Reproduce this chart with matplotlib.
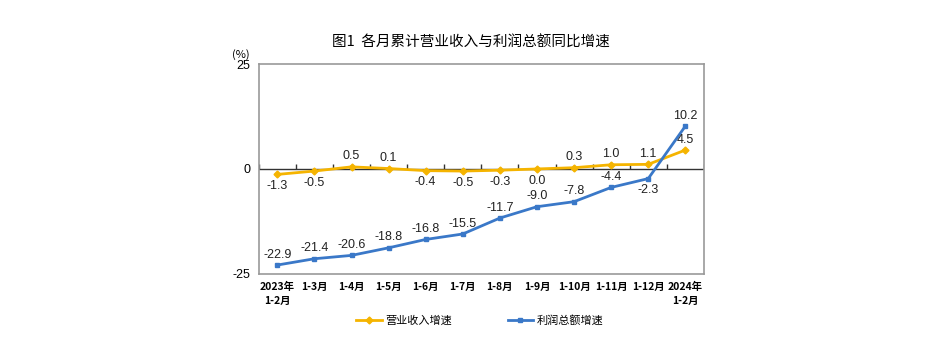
#coding:utf-8
import matplotlib
matplotlib.use('Agg')
import matplotlib.pyplot as plt
import numpy as np

plt.rcParams['font.family'] = ['Noto Sans CJK SC', 'DejaVu Sans']

# 数据
months = ['2023年\n1-2月', '1-3月', '1-4月', '1-5月', '1-6月', '1-7月', '1-8月',
          '1-9月', '1-10月', '1-11月', '1-12月', '2024年\n1-2月']
revenue = [-1.3, -0.5, 0.5, 0.1, -0.4, -0.5, -0.3, 0.0, 0.3, 1.0, 1.1, 4.5]
profit = [-22.9, -21.4, -20.6, -18.8, -16.8, -15.5, -11.7, -9.0, -7.8, -4.4, -2.3, 10.2]
# 标签在点的上方(1)或下方(-1)
rev_pos = [-1, -1, 1, 1, -1, -1, -1, -1, 1, 1, 1, 1]
pro_pos = [1, 1, 1, 1, 1, 1, 1, 1, 1, 1, -1, 1]

orange = '#F5B400'
blue = '#3A78C8'

fig = plt.figure(figsize=(9.41, 3.52), dpi=100)
ax = fig.add_axes([0.275, 0.222, 0.473, 0.596])

x = np.arange(len(months))
ax.plot(x, revenue, color=orange, lw=2, marker='D', ms=3.5, label='营业收入增速')
ax.plot(x, profit, color=blue, lw=2, marker='s', ms=3.5, label='利润总额增速')

for i in range(len(x)):
    off = 7.5 if rev_pos[i] > 0 else -8.5
    ax.annotate('%.1f' % revenue[i], (x[i], revenue[i]), xytext=(0, off),
                textcoords='offset points', ha='center', va='center', fontsize=9,
                family='Liberation Sans', color='#222222')
    off = 7.5 if pro_pos[i] > 0 else -8.5
    ax.annotate('%.1f' % profit[i], (x[i], profit[i]), xytext=(0, off),
                textcoords='offset points', ha='center', va='center', fontsize=9,
                family='Liberation Sans', color='#222222')

ax.axhline(0, color='#333333', lw=1, zorder=1)
ax.vlines(np.arange(len(months) + 1) - 0.5, 0, 1.2, color='#333333', lw=1, zorder=1)

ax.set_xlim(-0.5, len(months) - 0.5)
ax.set_ylim(-25, 25)
ax.set_yticks([-25, 0, 25])
ax.set_yticklabels(['-25', '0', '25'], fontsize=9, family='Liberation Sans')
ax.set_xticks(x)
ax.set_xticklabels(months, fontsize=7.5, fontweight='bold', linespacing=1.4)
ax.tick_params(axis='both', length=0, pad=6)
for s in ax.spines.values():
    s.set_color('#999999')
    s.set_linewidth(1.2)

fig.text(0.5, 0.88, '图1  各月累计营业收入与利润总额同比增速', ha='center', va='center',
         fontsize=10.5)
fig.text(0.256, 0.845, '(%)', ha='center', va='center', fontsize=8)

fig.legend(loc='center', bbox_to_anchor=(0.51, 0.09), ncol=2, frameon=False,
           fontsize=8, columnspacing=5, handlelength=2.3, handletextpad=0.3)

fig.savefig('out.png', dpi=100)
